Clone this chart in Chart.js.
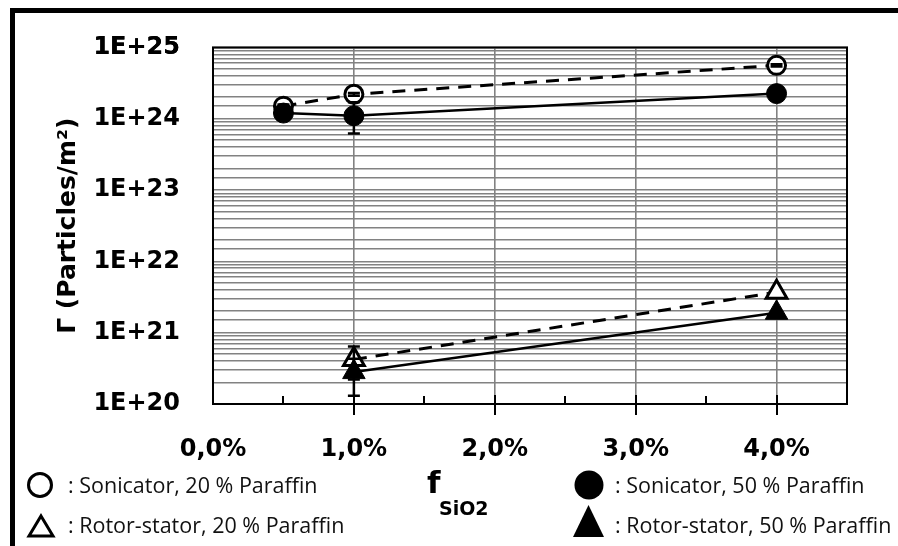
<!DOCTYPE html>
<html>
<head>
<meta charset="utf-8">
<script src="https://cdn.jsdelivr.net/npm/chart.js@4/dist/chart.umd.min.js"></script>
<style>
body { margin: 0; background: #fff; }
#wrap { position: relative; width: 898px; height: 546px; overflow: hidden; }
#frame { position: absolute; left: 10px; top: 8px; width: 1000px; height: 1000px; border-left: 5px solid #000; border-top: 5px solid #000; }
#chart { position: absolute; left: 0; top: 0; }
.leg { position: absolute; font-family: "Open Sans", sans-serif; font-size: 21.5px; line-height: 22px; white-space: nowrap; color: #111; }
.sym { position: absolute; }
.xt { position: absolute; font-family: "DejaVu Sans", sans-serif; font-weight: bold; color: #000; white-space: nowrap; line-height: 1; }
</style>
</head>
<body>
<div id="wrap">
  <div id="frame"></div>
  <canvas id="chart" width="898" height="546"></canvas>

  <svg class="sym" style="left:26px;top:471px" width="30" height="30"><circle cx="14" cy="14" r="11.5" fill="#fff" stroke="#000" stroke-width="3"/></svg>
  <div class="leg" style="left:68px;top:474px">: Sonicator, 20 % Paraffin</div>
  <svg class="sym" style="left:26px;top:512px" width="32" height="28"><polygon points="15,4 27,24 3,24" fill="#fff" stroke="#000" stroke-width="3" stroke-linejoin="miter"/></svg>
  <div class="leg" style="left:68px;top:514px">: Rotor-stator, 20 % Paraffin</div>

  <svg class="sym" style="left:574px;top:470px" width="30" height="30"><circle cx="15" cy="15" r="14.5" fill="#000"/></svg>
  <div class="leg" style="left:615px;top:474px">: Sonicator, 50 % Paraffin</div>
  <svg class="sym" style="left:572px;top:504px" width="34" height="34"><polygon points="16.5,1 32,33 1,33" fill="#000"/></svg>
  <div class="leg" style="left:615px;top:514px">: Rotor-stator, 50 % Paraffin</div>

  <div class="xt" style="left:427px;top:467px;font-size:31px">f</div>
  <div class="xt" style="left:439px;top:499px;font-size:19px">SiO2</div>
</div>
<script>
// values (x in % SiO2)
const xSonic = [0.5, 1, 4];
const sonic20 = [1.5e24, 2.2e24, 5.6e24];
const sonic50 = [1.2e24, 1.1e24, 2.25e24];
const xRotor = [1, 4];
const rotor20 = [4.2e20, 3.7e21];
const rotor50 = [2.8e20, 1.9e21];

// error bars (low / high), null = none drawn
const sonic20Lo = [1.42e24, 2.1e24, 5.4e24];
const sonic20Hi = [1.58e24, 2.3e24, 5.8e24];
const sonic50Lo = [null, 6.2e23, null];
const sonic50Hi = [null, 1.7e24, null];
const rotor20Lo = [2.2e20, null];
const rotor20Hi = [6.4e20, null];
const rotor50Lo = [1.3e20, null];
const rotor50Hi = [4.3e20, null];

const yMin = 1e20, yMax = 1e25;
const xMin = 0, xMax = 4.5;
const majorX = [0, 1, 2, 3, 4];
const minorX = [0.5, 1.5, 2.5, 3.5];

const pts = (xs, ys) => xs.map((x, i) => ({x: x, y: ys[i]}));

const boldFont = {family: 'DejaVu Sans', weight: 'bold', size: 24};

// frame, x tick marks and error bars
const extras = {
    id: 'extras',
    beforeDatasetsDraw(chart) {
        const {ctx, chartArea: a, scales: {x}} = chart;
        ctx.save();
        ctx.strokeStyle = '#000';
        ctx.lineWidth = 2;
        ctx.strokeRect(a.left, a.top, a.right - a.left, a.bottom - a.top);
        ctx.beginPath();
        majorX.forEach(v => {
            const px = Math.round(x.getPixelForValue(v));
            if (v === 0) return;
            ctx.moveTo(px, a.bottom - 9);
            ctx.lineTo(px, a.bottom + 11);
        });
        minorX.forEach(v => {
            const px = Math.round(x.getPixelForValue(v));
            ctx.moveTo(px, a.bottom - 8);
            ctx.lineTo(px, a.bottom);
        });
        ctx.stroke();
        ctx.restore();
    },
    afterDatasetsDraw(chart) {
        const {ctx, scales: {x, y}} = chart;
        ctx.save();
        ctx.strokeStyle = '#000';
        ctx.lineWidth = 2.5;
        chart.data.datasets.forEach(ds => {
            ds.data.forEach((p, i) => {
                const lo = ds.errLo[i], hi = ds.errHi[i];
                if (lo == null || hi == null) return;
                const px = x.getPixelForValue(p.x);
                const y1 = y.getPixelForValue(lo), y2 = y.getPixelForValue(hi);
                ctx.beginPath();
                ctx.moveTo(px, y1); ctx.lineTo(px, y2);
                ctx.moveTo(px - 6, y1); ctx.lineTo(px + 6, y1);
                ctx.moveTo(px - 6, y2); ctx.lineTo(px + 6, y2);
                ctx.stroke();
            });
        });
        ctx.restore();
    }
};

const ctx = document.getElementById('chart').getContext('2d');
const chart = new Chart(ctx, {
    type: 'line',
    data: {
        datasets: [{
            label: 'Sonicator, 50 % Paraffin',
            data: pts(xSonic, sonic50),
            errLo: sonic50Lo, errHi: sonic50Hi,
            borderColor: '#000', borderWidth: 2.5,
            pointStyle: 'circle', pointRadius: 10,
            pointBackgroundColor: '#000', pointBorderColor: '#000', pointBorderWidth: 1,
            order: 1
        }, {
            label: 'Sonicator, 20 % Paraffin',
            data: pts(xSonic, sonic20),
            errLo: sonic20Lo, errHi: sonic20Hi,
            borderColor: '#000', borderWidth: 3, borderDash: [13, 9],
            pointStyle: 'circle', pointRadius: 9,
            pointBackgroundColor: '#fff', pointBorderColor: '#000', pointBorderWidth: 3,
            order: 2
        }, {
            label: 'Rotor-stator, 50 % Paraffin',
            data: pts(xRotor, rotor50),
            errLo: rotor50Lo, errHi: rotor50Hi,
            borderColor: '#000', borderWidth: 2.5,
            pointStyle: 'triangle', pointRadius: 13,
            pointBackgroundColor: '#000', pointBorderColor: '#000', pointBorderWidth: 1,
            order: 1
        }, {
            label: 'Rotor-stator, 20 % Paraffin',
            data: pts(xRotor, rotor20),
            errLo: rotor20Lo, errHi: rotor20Hi,
            borderColor: '#000', borderWidth: 3, borderDash: [13, 9],
            pointStyle: 'triangle', pointRadius: 12,
            pointBackgroundColor: '#fff', pointBorderColor: '#000', pointBorderWidth: 3,
            order: 2
        }]
    },
    options: {
        responsive: false,
        animation: false,
        layout: { padding: {top: 44, right: 51, bottom: 0, left: 0} },
        plugins: { legend: {display: false}, tooltip: {enabled: false} },
        scales: {
            x: {
                type: 'linear',
                min: xMin, max: xMax,
                afterFit(scale) { scale.height = 142; },
                grid: {
                    drawTicks: false,
                    color: c => (Math.abs(c.tick.value - Math.round(c.tick.value)) < 1e-6 ? '#828282' : 'rgba(0,0,0,0)'),
                    lineWidth: 1.6
                },
                border: { display: false },
                ticks: {
                    stepSize: 0.5,
                    includeBounds: false,
                    autoSkip: false,
                    maxRotation: 0,
                    padding: 31,
                    color: '#000',
                    font: boldFont,
                    callback: v => (Math.abs(v - Math.round(v)) < 1e-6 ? v.toFixed(1).replace('.', ',') + '%' : '')
                }
            },
            y: {
                type: 'logarithmic',
                min: yMin, max: yMax,
                afterFit(scale) { scale.width = 213; },
                grid: { drawTicks: false, color: '#828282', lineWidth: 1.6 },
                border: { display: false },
                title: {
                    display: true,
                    text: 'Γ (Particles/m²)',
                    color: '#000',
                    font: {family: 'DejaVu Sans', weight: 'bold', size: 25},
                    padding: {top: 53, bottom: 0}
                },
                ticks: {
                    autoSkip: false,
                    padding: 33,
                    color: '#000',
                    font: boldFont,
                    callback: v => {
                        const e = Math.log10(v);
                        return Math.abs(e - Math.round(e)) < 1e-9 ? '1E+' + Math.round(e) : '';
                    }
                }
            }
        }
    },
    plugins: [extras]
});
</script>
</body>
</html>
